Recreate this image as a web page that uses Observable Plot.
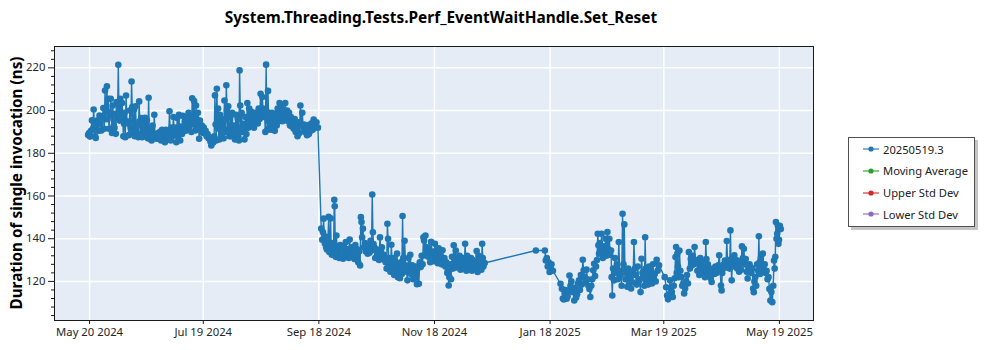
<!DOCTYPE html>
<html>
<head>
<meta charset="utf-8">
<script src="https://cdn.jsdelivr.net/npm/d3@7"></script>
<script src="https://cdn.jsdelivr.net/npm/@observablehq/plot@0.6"></script>
<style>
  html, body { margin: 0; padding: 0; background: #ffffff; }
  #wrap { position: relative; width: 1000px; height: 350px; font-family: "Noto Sans", "Open Sans", sans-serif; color: #1a1a1a; }
  #chart { position: absolute; left: 0; top: 0; }
  #title { position: absolute; left: 0; top: 7px; width: 882px; text-align: center; font-weight: 700; font-size: 15.4px; color: #000; white-space: nowrap; }
  #ylabel { position: absolute; left: 16px; top: 183px; transform: translate(-50%, -50%) rotate(-90deg); font-weight: 700; font-size: 15.3px; color: #000; white-space: nowrap; }
  #legend { position: absolute; left: 848px; top: 137px; width: 127px; height: 90px; box-sizing: border-box; border: 1px solid #505050; background: #fff; box-shadow: 3px 3px 0 #c4c4c4; font-size: 11.2px; }
  #legend .row { position: absolute; left: 14px; height: 16px; display: flex; align-items: center; white-space: nowrap; color: #222; }
  #legend svg { margin-right: 4px; }
</style>
</head>
<body>
<div id="wrap">
  <div id="chart"></div>
  <div id="title">System.Threading.Tests.Perf_EventWaitHandle.Set_Reset</div>
  <div id="ylabel">Duration of single invocation (ns)</div>
  <div id="legend"></div>
</div>
<script>
// ---- Data (date, then the values measured on that day) ----
const phase1 = [
 ["2024-05-19",188.6,189.5],["2024-05-20",187.8,190.5],["2024-05-21",195.4,191.5],["2024-05-22",200.5,194.0,188.0],
 ["2024-05-23",187.2,193.0],["2024-05-24",195.5,190.5],["2024-05-25",197.7,194.0],["2024-05-26",190.7,197.0],
 ["2024-05-27",201.2,191.5],["2024-05-28",209.4,196.0,200.0],["2024-05-29",211.4,196.0,205.5],["2024-05-30",191.5,199.0],
 ["2024-05-31",205.5,198.0,189.5],["2024-06-01",202.4,193.0],["2024-06-02",191.9,198.5,189.1],["2024-06-03",204.0,196.5],
 ["2024-06-04",221.4,200.8,195.3],["2024-06-05",205.5,199.0],["2024-06-06",203.5,197.0,188.0],["2024-06-07",193.8,199.0,187.5],
 ["2024-06-08",207.0,195.0],["2024-06-09",194.0,188.5],["2024-06-10",200.0,192.0],["2024-06-11",213.6,201.6,190.0],
 ["2024-06-12",195.0,200.5,188.0],["2024-06-13",202.0,189.0],["2024-06-14",193.0,187.5],["2024-06-15",204.3,195.0,189.0],
 ["2024-06-16",196.5,187.5],["2024-06-17",194.6,188.0,190.5],["2024-06-18",196.6,189.0],["2024-06-19",195.3,187.0],
 ["2024-06-20",206.0,189.0,186.8],["2024-06-21",191.0,186.0],["2024-06-22",193.0,188.0],["2024-06-23",198.0,189.0,187.0],
 ["2024-06-24",188.0,186.8],["2024-06-25",189.5,187.5],["2024-06-26",190.0,186.0],["2024-06-27",191.0,187.0],
 ["2024-06-28",189.0,185.2],["2024-06-29",191.0,186.5],["2024-06-30",189.5,188.0],["2024-07-01",199.7,190.5,186.0],
 ["2024-07-02",192.0,188.0],["2024-07-03",197.0,189.0],["2024-07-04",192.0,185.2],["2024-07-05",196.5,188.0],
 ["2024-07-06",198.0,190.0,186.0],["2024-07-07",192.5,189.0],["2024-07-08",197.5,191.0],["2024-07-09",195.0,190.5],
 ["2024-07-10",197.0,192.2],["2024-07-11",199.0,193.0],["2024-07-12",196.0,190.0],["2024-07-13",205.8,196.9,193.5],
 ["2024-07-14",204.5,194.6,190.7],["2024-07-15",202.4,196.0,192.0],["2024-07-16",199.0,194.0,186.8],["2024-07-17",195.3,191.0],
 ["2024-07-18",193.0,189.5],["2024-07-19",192.0,190.0],["2024-07-20",190.5,188.0],["2024-07-21",189.0,187.0],
 ["2024-07-22",187.5,185.5],["2024-07-23",183.7,186.0],["2024-07-24",185.0,188.0],["2024-07-25",207.1,193.5,186.0],
 ["2024-07-26",210.2,195.3,201.0],["2024-07-27",191.5,186.5,198.0],["2024-07-28",196.0,189.0,192.5],["2024-07-29",194.0,187.0],
 ["2024-07-30",204.7,196.0,190.0],["2024-07-31",211.8,200.0,191.0],["2024-08-01",202.0,190.0,188.0],["2024-08-02",197.0,188.0],
 ["2024-08-03",199.0,189.5],["2024-08-04",193.0,186.5],["2024-08-05",198.0,190.0],["2024-08-06",196.0,188.0,186.0],
 ["2024-08-07",218.8,202.4,192.0],["2024-08-08",199.0,190.0],["2024-08-09",193.8,186.5],["2024-08-10",197.0,189.0],
 ["2024-08-11",203.5,192.0],["2024-08-12",201.0,194.5],["2024-08-13",199.5,193.0],["2024-08-14",197.5,192.0],
 ["2024-08-15",199.0,195.0],["2024-08-16",197.0,194.0],["2024-08-17",201.0,196.0],["2024-08-18",207.9,198.0],
 ["2024-08-19",206.3,201.0,197.0],["2024-08-20",200.0,190.0],["2024-08-21",221.5,199.5,191.0],["2024-08-22",209.2,195.0,192.0],
 ["2024-08-23",197.5,191.0],["2024-08-24",199.0,192.0],["2024-08-25",196.0,190.5],["2024-08-26",198.5,193.0],
 ["2024-08-27",201.0,195.0],["2024-08-28",203.5,197.0],["2024-08-29",202.5,195.0],["2024-08-30",200.3,196.0],
 ["2024-08-31",203.5,198.0],["2024-09-01",200.0,195.0],["2024-09-02",199.0,193.0],["2024-09-03",197.0,192.5],
 ["2024-09-04",195.0,191.5],["2024-09-05",196.0,190.0],["2024-09-06",193.0,188.0],["2024-09-07",194.5,189.5],
 ["2024-09-08",202.4,193.0],["2024-09-09",199.0,192.0],["2024-09-10",193.5,190.0],["2024-09-11",192.0,188.5],
 ["2024-09-12",191.0,189.0],["2024-09-13",193.5,190.5],["2024-09-14",194.0,191.0],["2024-09-15",195.8,192.0],
 ["2024-09-16",193.5,194.5],["2024-09-17",192.0]
];
const phase2 = [
 ["2024-09-19",144.7,139.5],["2024-09-20",143.0,149.4,140.0],["2024-09-21",137.7,141.0,136.0],["2024-09-22",135.0,138.0],
 ["2024-09-23",150.2,133.8,136.0],["2024-09-24",149.5,136.0,132.5],["2024-09-25",138.0,134.0],["2024-09-26",158.2,155.2,136.5,131.5],
 ["2024-09-27",141.5,133.0],["2024-09-28",135.0,131.0],["2024-09-29",137.0,132.5],["2024-09-30",134.0,130.6],
 ["2024-10-01",136.5,132.0],["2024-10-02",138.4,133.5],["2024-10-03",135.0,131.0],["2024-10-04",139.6,133.0],
 ["2024-10-05",136.0,132.0],["2024-10-06",134.5,130.5],["2024-10-07",137.0,131.5],["2024-10-08",135.0,129.0],
 ["2024-10-09",134.0,127.5],["2024-10-10",150.1,147.8,140.6],["2024-10-11",144.7,136.0],["2024-10-12",138.0,134.0],
 ["2024-10-13",135.5,133.0],["2024-10-14",137.0,133.5],["2024-10-15",139.0,134.5],["2024-10-16",160.7,143.0,137.5],
 ["2024-10-17",136.0,131.0],["2024-10-18",135.0,132.5],["2024-10-19",133.0,130.0],["2024-10-20",140.6,134.0],
 ["2024-10-21",136.0,131.5],["2024-10-22",132.5,130.0],["2024-10-23",129.0,126.0],["2024-10-24",147.0,140.0,131.0],
 ["2024-10-25",128.0,124.5],["2024-10-26",137.2,126.5],["2024-10-27",131.0,123.0],["2024-10-28",128.5,125.0],
 ["2024-10-29",133.0,122.0],["2024-10-30",127.0,121.5],["2024-10-31",129.0,123.5],["2024-11-01",150.6,131.0,126.0],
 ["2024-11-02",139.0,127.5],["2024-11-03",124.5,120.5],["2024-11-04",131.0,125.0],["2024-11-05",132.5,123.4],
 ["2024-11-06",127.5,121.0],["2024-11-07",125.0,122.5],["2024-11-08",127.0,118.7],["2024-11-09",126.5,118.9],
 ["2024-11-10",129.0,126.7],["2024-11-11",132.0,128.0],["2024-11-12",140.7,139.2,132.2],["2024-11-13",141.5,134.0],
 ["2024-11-14",136.0,131.5],["2024-11-15",135.0,129.0],["2024-11-16",138.5,132.0],["2024-11-17",134.0,129.5],
 ["2024-11-18",137.6,131.0],["2024-11-19",133.0,128.5],["2024-11-20",135.5,130.0],["2024-11-21",132.0,128.0],
 ["2024-11-22",134.6,129.5],["2024-11-23",131.0,127.0],["2024-11-24",129.0,124.0],["2024-11-25",125.1,118.1,122.0],
 ["2024-11-26",128.0,121.0],["2024-11-27",131.5,126.0],["2024-11-28",136.9,128.0,131.0],["2024-11-29",134.5,126.5],
 ["2024-11-30",130.0,127.0],["2024-12-01",132.0,125.5],["2024-12-02",129.5,126.0],["2024-12-03",131.0,128.0],
 ["2024-12-04",137.6,130.0,125.0],["2024-12-05",132.0,127.0],["2024-12-06",129.0,126.5],["2024-12-07",131.0,125.0],
 ["2024-12-08",130.0,128.5],["2024-12-09",128.0,126.0],["2024-12-10",134.2,124.4],["2024-12-11",132.0,127.0],
 ["2024-12-12",129.0,125.5],["2024-12-13",137.6,131.0,127.0],["2024-12-14",128.6]
];
const phase3 = [
 ["2025-01-10",134.5],["2025-01-15",134.5,129.8],["2025-01-16",131.0,127.0],["2025-01-17",129.0,124.4],
 ["2025-01-18",126.7,128.0],["2025-01-19",125.0],["2025-01-23",118.9],["2025-01-24",116.6,112.0],
 ["2025-01-25",111.5,114.5],["2025-01-26",116.0,111.9],["2025-01-27",113.0,115.5],["2025-01-28",122.8,118.0],
 ["2025-01-29",120.0,115.0],["2025-01-30",115.8,111.1],["2025-01-31",117.0,112.5],["2025-02-01",114.0,119.0],
 ["2025-02-02",120.5,116.0],["2025-02-03",123.0,118.5],["2025-02-04",130.1,125.2],["2025-02-05",122.0,119.5],
 ["2025-02-06",125.5,121.0],["2025-02-07",118.0,116.5],["2025-02-08",112.7,118.0],["2025-02-09",121.0,125.2],
 ["2025-02-10",128.3,122.5],["2025-02-11",127.0,130.0],["2025-02-12",142.3,136.9,133.0],["2025-02-13",138.0,134.5],
 ["2025-02-14",142.3,135.0,131.0],["2025-02-15",136.5,133.0],["2025-02-16",140.0,132.0],["2025-02-17",143.1,135.0],
 ["2025-02-18",140.0,132.5],["2025-02-19",134.5,122.0,113.4],["2025-02-20",126.0,120.5],["2025-02-21",131.0,124.0],
 ["2025-02-22",128.0,121.0],["2025-02-23",138.4,125.0],["2025-02-24",123.0,118.0],["2025-02-25",151.7,128.0],
 ["2025-02-26",146.7,125.5,121.0],["2025-02-27",124.0,117.5],["2025-02-28",126.0,119.0],["2025-03-01",122.0,116.7],
 ["2025-03-02",124.5,119.5],["2025-03-03",138.4,126.0],["2025-03-04",123.0,118.5],["2025-03-05",127.0,121.0],
 ["2025-03-06",120.5,115.0],["2025-03-07",130.6,124.0],["2025-03-08",122.0,118.0],["2025-03-09",140.7,126.0,120.0],
 ["2025-03-10",124.5,118.5],["2025-03-11",127.0,121.0],["2025-03-12",125.0,119.0],["2025-03-13",128.0,122.5],
 ["2025-03-14",123.5,120.0],["2025-03-15",130.1,125.0],["2025-03-16",127.5],["2025-03-19",122.0],
 ["2025-03-20",117.3,113.4],["2025-03-21",111.6,114.0],["2025-03-22",120.5,116.7],["2025-03-23",115.0,112.7],
 ["2025-03-24",118.0,121.5],["2025-03-25",131.4,136.1,124.0],["2025-03-26",133.0,127.0,122.0],["2025-03-27",134.5,125.0],
 ["2025-03-28",122.0,118.0],["2025-03-29",119.0,114.4],["2025-03-30",116.7,120.0],["2025-03-31",123.0,119.0],
 ["2025-04-01",133.7,126.0],["2025-04-02",130.5,127.5],["2025-04-03",132.0,128.0],["2025-04-04",136.1,129.0],
 ["2025-04-05",130.0,125.0],["2025-04-06",128.5,123.0],["2025-04-07",131.0,126.5],["2025-04-08",129.5,124.5],
 ["2025-04-09",127.0,122.0],["2025-04-10",138.4,130.5,125.0],["2025-04-11",128.0,123.5],["2025-04-12",126.0,121.5],
 ["2025-04-13",119.7,124.0],["2025-04-14",126.0,123.5],["2025-04-15",127.0,124.0],["2025-04-16",125.5,127.5],
 ["2025-04-17",132.2,126.0],["2025-04-18",118.1,115.8,124.0],["2025-04-19",126.0,128.0],["2025-04-20",129.8,126.5],
 ["2025-04-21",138.9,128.0],["2025-04-22",130.0,126.0],["2025-04-23",143.9,128.0,120.5],["2025-04-24",131.0,127.0],
 ["2025-04-25",132.2,128.5],["2025-04-26",130.0,126.0],["2025-04-27",127.5,124.5],["2025-04-28",129.5,125.5],
 ["2025-04-29",136.4,131.0],["2025-04-30",135.3,128.0],["2025-05-01",130.5,124.5],["2025-05-02",121.4,126.0],
 ["2025-05-03",128.0,125.0],["2025-05-04",124.0,126.1],["2025-05-05",116.7,114.9,120.0],["2025-05-06",122.0,118.0],
 ["2025-05-07",128.0,125.0],["2025-05-08",141.1,129.0,123.5],["2025-05-09",131.0,126.0],["2025-05-10",133.0,127.5],
 ["2025-05-11",128.0,124.0],["2025-05-12",125.0,121.0],["2025-05-13",122.0,116.5],["2025-05-14",111.1,115.0],
 ["2025-05-15",110.3,118.0],["2025-05-16",129.8,126.0,131.5],["2025-05-17",147.8,140.0,142.3],["2025-05-18",146.2,137.6,139.5],
 ["2025-05-19",146.0,144.5]
];
const xTickDates = ["2024-05-20","2024-07-19","2024-09-18","2024-11-18","2025-01-18","2025-03-19","2025-05-19"];
const yTickValues = [120, 140, 160, 180, 200, 220];
const yMinorValues = [104,108,112,116,124,128,132,136,144,148,152,156,164,168,172,176,184,188,192,196,204,208,212,216,224,228];
const legendLabels = ["20250519.3", "Moving Average", "Upper Std Dev", "Lower Std Dev"];
const legendColors = ["#1f77b4", "#2ca02c", "#d62728", "#9467bd"];

// ---- Build the table: spread a day's runs across that day ----
const DAY = 86400000;
const rows = [];
for (const [d, ...vals] of [...phase1, ...phase2, ...phase3]) {
  const t0 = +new Date(d + "T00:00:00Z");
  vals.forEach((v, i) => rows.push({date: new Date(t0 + (i + 0.5) * DAY / vals.length), value: v}));
}
const xTicks = xTickDates.map(s => new Date(s + "T00:00:00Z"));

const chart = Plot.plot({
  width: 1000,
  height: 350,
  marginLeft: 54,
  marginRight: 187,
  marginTop: 46,
  marginBottom: 30,
  style: {fontFamily: "'Noto Sans', sans-serif", fontSize: "11.3px", color: "#262626", background: "transparent", overflow: "visible"},
  x: {type: "utc", domain: [new Date("2024-05-01T12:00:00Z"), new Date("2025-06-06T00:00:00Z")]},
  y: {domain: [101.7, 230]},
  marks: [
    Plot.frame({fill: "#e5ecf6", stroke: null}),
    Plot.gridX(xTicks, {stroke: "#ffffff", strokeOpacity: 1, strokeWidth: 1.5}),
    Plot.gridY(yTickValues, {stroke: "#ffffff", strokeOpacity: 1, strokeWidth: 1.5}),
    Plot.line(rows, {x: "date", y: "value", stroke: "#1f77b4", strokeWidth: 1.4}),
    Plot.dot(rows, {x: "date", y: "value", r: 3.3, fill: "#1f77b4", stroke: null}),
    Plot.frame({stroke: "#1a1a1a", strokeWidth: 1}),
    Plot.axisX(xTicks, {tickFormat: d3.utcFormat("%b %d %Y"), tickSize: 4, tickPadding: 3, label: null, stroke: "#1a1a1a"}),
    Plot.axisY(yTickValues, {tickSize: 6, tickPadding: 3, label: null, stroke: "#1a1a1a"}),
    Plot.axisY(yMinorValues, {tickSize: 3, tickFormat: () => "", label: null, stroke: "#1a1a1a"})
  ]
});
document.getElementById("chart").appendChild(chart);

// ---- Legend ----
const legend = document.getElementById("legend");
legendLabels.forEach((label, i) => {
  const row = document.createElement("div");
  row.className = "row";
  row.style.top = (3 + i * 21.8) + "px";
  const c = legendColors[i];
  row.innerHTML = `<svg width="16" height="8"><line x1="0" y1="4" x2="16" y2="4" stroke="${c}" stroke-opacity="0.75" stroke-width="1.5"/><circle cx="8" cy="4" r="2.6" fill="${c}"/></svg><span>${label}</span>`;
  legend.appendChild(row);
});
</script>
</body>
</html>
